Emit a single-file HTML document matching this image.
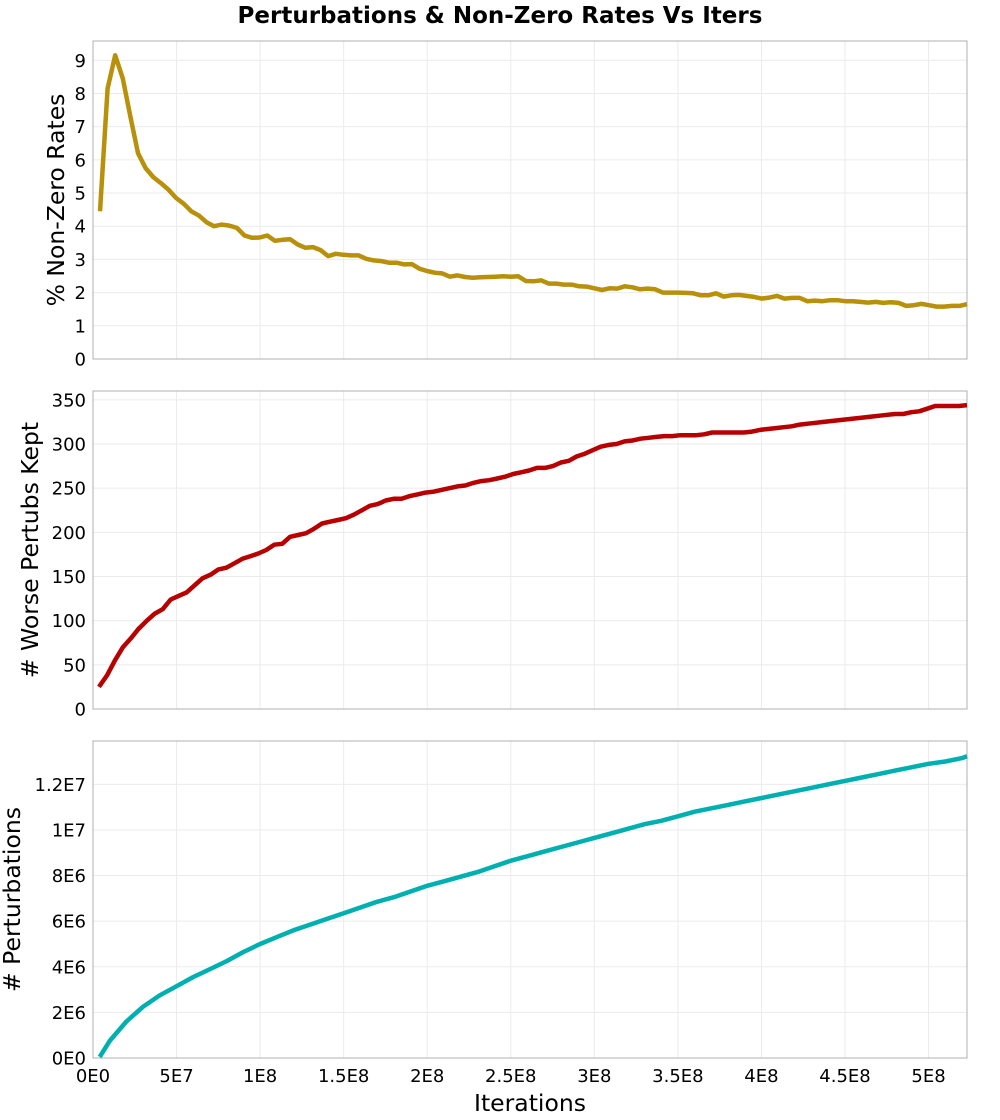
<!DOCTYPE html>
<html><head><meta charset="utf-8"><style>
body{margin:0;background:#fff;}
svg{display:block;font-family:"DejaVu Sans","Liberation Sans",sans-serif;}
</style></head><body>
<svg id="chart" width="1000" height="1120" xmlns="http://www.w3.org/2000/svg">
<text x="500" y="23" text-anchor="middle" font-size="23" font-weight="bold">Perturbations &amp; Non-Zero Rates Vs Iters</text>
</svg>
<script>
const xTicks=[0,5e7,1e8,1.5e8,2e8,2.5e8,3e8,3.5e8,4e8,4.5e8,5e8];
const xTickLabels=["0E0","5E7","1E8","1.5E8","2E8","2.5E8","3E8","3.5E8","4E8","4.5E8","5E8"];
const X_MAX=5.23e8;
const rateTicks=[0,1,2,3,4,5,6,7,8,9];
const rateStart=4.2e6;
const rateValues=[4.45,8.15,9.15,8.45,7.3,6.2,5.75,5.48,5.3,5.1,4.85,4.68,4.45,4.32,4.12,4.0,4.05,4.02,3.95,3.72,3.65,3.66,3.72,3.56,3.59,3.61,3.45,3.35,3.37,3.28,3.1,3.17,3.14,3.12,3.12,3.02,2.97,2.95,2.9,2.9,2.85,2.86,2.72,2.65,2.6,2.58,2.48,2.52,2.47,2.45,2.46,2.47,2.48,2.49,2.48,2.49,2.35,2.34,2.37,2.27,2.27,2.24,2.24,2.19,2.18,2.13,2.08,2.13,2.12,2.19,2.16,2.1,2.12,2.1,2.0,2.0,2.0,1.99,1.98,1.92,1.92,1.98,1.88,1.92,1.93,1.9,1.87,1.82,1.85,1.9,1.82,1.84,1.84,1.74,1.76,1.74,1.77,1.77,1.74,1.74,1.72,1.7,1.72,1.69,1.71,1.69,1.6,1.62,1.66,1.62,1.58,1.58,1.6,1.6,1.65];
const worseTicks=[0,50,100,150,200,250,300,350];
const worseStart=3.6e6;
const worseValues=[25,38,55,70,80,91,100,108,113,124,128,132,140,148,152,158,160,165,170,173,176,180,186,187,195,197,199,204,210,212,214,216,220,225,230,232,236,238,238,241,243,245,246,248,250,252,253,256,258,259,261,263,266,268,270,273,273,275,279,281,286,289,293,297,299,300,303,304,306,307,308,309,309,310,310,310,311,313,313,313,313,313,314,316,317,318,319,320,322,323,324,325,326,327,328,329,330,331,332,333,334,334,336,337,340,343,343,343,343,344];
const pertTicks=[0,2e6,4e6,6e6,8e6,1e7,1.2e7];
const pertTickLabels=["0E0","2E6","4E6","6E6","8E6","1E7","1.2E7"];
const pertIters=[0.4e7,1e7,2e7,3e7,4e7,5e7,6e7,7e7,8e7,9e7,10e7,11e7,12e7,13e7,14e7,15e7,16e7,17e7,18e7,19e7,20e7,21e7,22e7,23e7,24e7,25e7,26e7,27e7,28e7,29e7,30e7,31e7,32e7,33e7,34e7,35e7,36e7,37e7,38e7,39e7,40e7,41e7,42e7,43e7,44e7,45e7,46e7,47e7,48e7,49e7,50e7,51e7,52e7,52.3e7];
const pertValues=[0.05,0.75,1.6,2.25,2.75,3.15,3.55,3.9,4.25,4.65,5.0,5.3,5.6,5.85,6.1,6.35,6.6,6.85,7.05,7.3,7.55,7.75,7.95,8.15,8.4,8.65,8.85,9.05,9.25,9.45,9.65,9.85,10.05,10.25,10.4,10.6,10.8,10.95,11.1,11.25,11.4,11.55,11.7,11.85,12.0,12.15,12.3,12.45,12.6,12.75,12.9,13.0,13.15,13.23];

const NS="http://www.w3.org/2000/svg";
const svg=document.getElementById('chart');
const L=93,R=967;
function xs(v){return L+v/X_MAX*(R-L);}
function mk(tag,attrs,parent){const e=document.createElementNS(NS,tag);for(const k in attrs)e.setAttribute(k,attrs[k]);(parent||svg).appendChild(e);return e;}

function panel(key,top,bot,ymax,ticks,labels,scale,title,titleX,color,iters,values,showX){
  const g=mk('g',{});
  
  
  const ys=v=>bot-v/ymax*(bot-top);
  xTicks.forEach((t,i)=>{const l=mk('line',{x1:xs(t),x2:xs(t),y1:top,y2:bot,stroke:'#ebebeb','stroke-width':1},g);
    
    });
  ticks.forEach((t,i)=>{const l=mk('line',{x1:L,x2:R,y1:ys(t),y2:ys(t),stroke:'#ebebeb','stroke-width':1},g);
    
    
    const tx=mk('text',{x:86,y:ys(t)+6.5,'text-anchor':'end','font-size':18},g);
    
    
    tx.textContent=labels?labels[i]:String(t);});
  const b=mk('rect',{x:L,y:top,width:R-L,height:bot-top,fill:'none',stroke:'#b0b0b0','stroke-width':1},g);
  
  
  const pts=values.map((v,i)=>xs(iters[i]).toFixed(1)+','+ys(v*scale).toFixed(1)).join(' ');
  const pl=mk('polyline',{points:pts,fill:'none',stroke:color,'stroke-width':4.5,'stroke-linejoin':'round'},g);
  
  
  const yt=mk('text',{x:titleX,y:(top+bot)/2,'text-anchor':'middle','font-size':23.5,transform:`rotate(-90 ${titleX} ${(top+bot)/2})`},g);
  
  
  yt.textContent=title;
  if(showX){
    xTicks.forEach((t,i)=>{const tx=mk('text',{x:xs(t),y:bot+24,'text-anchor':'middle','font-size':18},g);
      
      
      tx.textContent=xTickLabels[i];});
    const xt=mk('text',{x:530,y:bot+53,'text-anchor':'middle','font-size':23.5},g);
    
    
    xt.textContent='Iterations';
  }
}
function evenIters(start,n){const a=[];const step=(X_MAX-start)/(n-1);for(let i=0;i<n;i++)a.push(start+i*step);return a;}
panel('rate',41,359,9.58,rateTicks,null,1,'% Non-Zero Rates',64,'#b8900a',evenIters(rateStart,rateValues.length),rateValues,false);
panel('worse',391,709,360,worseTicks,null,1,'# Worse Pertubs Kept',38,'#b80000',evenIters(worseStart,worseValues.length),worseValues,false);
panel('pert',741,1058,13.9e6,pertTicks,pertTickLabels,1e6,'# Perturbations',20,'#00b0b0',pertIters,pertValues,true);
</script>
</body></html>
